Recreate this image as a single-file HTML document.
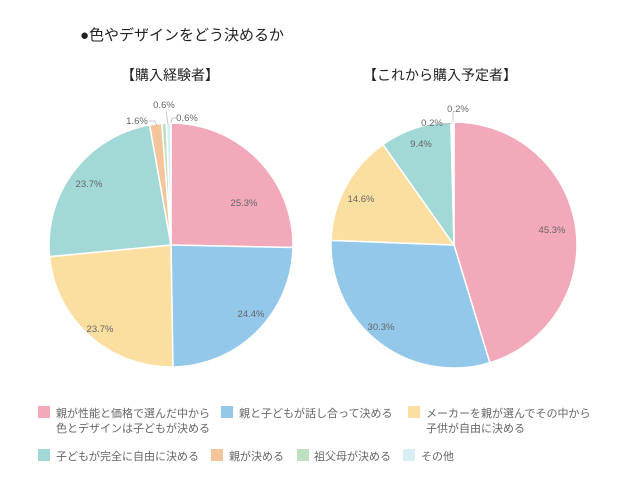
<!DOCTYPE html>
<html><head><meta charset="utf-8"><style>
body{margin:0;background:#fff;width:640px;height:480px;overflow:hidden;font-family:"Liberation Sans","Noto Sans CJK JP",sans-serif;}
svg{position:absolute;left:0;top:0}
</style></head><body>
<svg id="s" width="640" height="480" xmlns="http://www.w3.org/2000/svg" font-family="Liberation Sans, Noto Sans CJK JP, sans-serif">
<text x="80" y="40" font-size="15" fill="#222">●色やデザインをどう決めるか</text>
<text x="170" y="80" font-size="14" fill="#222" text-anchor="middle">【購入経験者】</text>
<text x="440" y="80" font-size="14" fill="#222" text-anchor="middle">【これから購入予定者】</text>
<g id="p"></g>
<g font-size="9.5" fill="#666">
<text x="244" y="206" text-anchor="middle">25.3%</text>
<text x="251" y="317" text-anchor="middle">24.4%</text>
<text x="100" y="332" text-anchor="middle">23.7%</text>
<text x="89" y="187" text-anchor="middle">23.7%</text>
<text x="137" y="124" text-anchor="middle">1.6%</text>
<text x="164" y="108" text-anchor="middle">0.6%</text>
<text x="187" y="121" text-anchor="middle">0.6%</text>
<text x="552" y="233" text-anchor="middle">45.3%</text>
<text x="381" y="330" text-anchor="middle">30.3%</text>
<text x="361" y="202" text-anchor="middle">14.6%</text>
<text x="421" y="147" text-anchor="middle">9.4%</text>
<text x="432" y="126" text-anchor="middle">0.2%</text>
<text x="458" y="112" text-anchor="middle">0.2%</text>
</g>
<g stroke="#bbb" fill="none" stroke-width="0.8">
<path d="M149 121 L155 121 L157 126"/><path d="M166 111 L168 124"/><path d="M176 118 L172 118 L171 123"/>
<path d="M443 124 L450 124 L452 123"/><path d="M453 112 L453 122"/>
</g>
<g font-size="11" fill="#666">
<rect x="38" y="406" width="12" height="12" fill="#f2aabb"/>
<text x="56" y="417">親が性能と価格で選んだ中から</text>
<text x="56" y="432">色とデザインは子どもが決める</text>
<rect x="221" y="406" width="12" height="12" fill="#94c8ea"/>
<text x="239" y="417">親と子どもが話し合って決める</text>
<rect x="408" y="406" width="12" height="12" fill="#fbdfa0"/>
<text x="426" y="417">メーカーを親が選んでその中から</text>
<text x="426" y="432">子供が自由に決める</text>
<rect x="38" y="449" width="12" height="12" fill="#a2d8d6"/>
<text x="56" y="460">子どもが完全に自由に決める</text>
<rect x="211" y="449" width="12" height="12" fill="#f4c49a"/>
<text x="229" y="460">親が決める</text>
<rect x="297" y="449" width="12" height="12" fill="#bfe0c0"/>
<text x="314" y="460">祖父母が決める</text>
<rect x="403" y="449" width="12" height="12" fill="#d8eef5"/>
<text x="421" y="460">その他</text>
</g>
</svg>
<script>
var C=["#f2aabb","#94c8ea","#fbdfa0","#a2d8d6","#f4c49a","#bfe0c0","#d8eef5"];
function pie(cx,cy,r,v){var t=v.reduce((a,b)=>a+b,0),a=0,h="";
v.forEach(function(x,i){var a2=a+x/t*2*Math.PI;
var x1=cx+r*Math.sin(a),y1=cy-r*Math.cos(a),x2=cx+r*Math.sin(a2),y2=cy-r*Math.cos(a2);
h+='<path d="M'+cx+' '+cy+' L'+x1+' '+y1+' A'+r+' '+r+' 0 '+((a2-a)>Math.PI?1:0)+' 1 '+x2+' '+y2+' Z" fill="'+C[i]+'" stroke="#fff" stroke-width="1.5"/>';a=a2;});return h;}
document.getElementById("p").innerHTML=pie(171,245,122,[25.3,24.4,23.7,23.7,1.6,0.6,0.6])+pie(454,245,123,[45.3,30.3,14.6,9.4,0.2,0,0.2]);
</script>
</body></html>
